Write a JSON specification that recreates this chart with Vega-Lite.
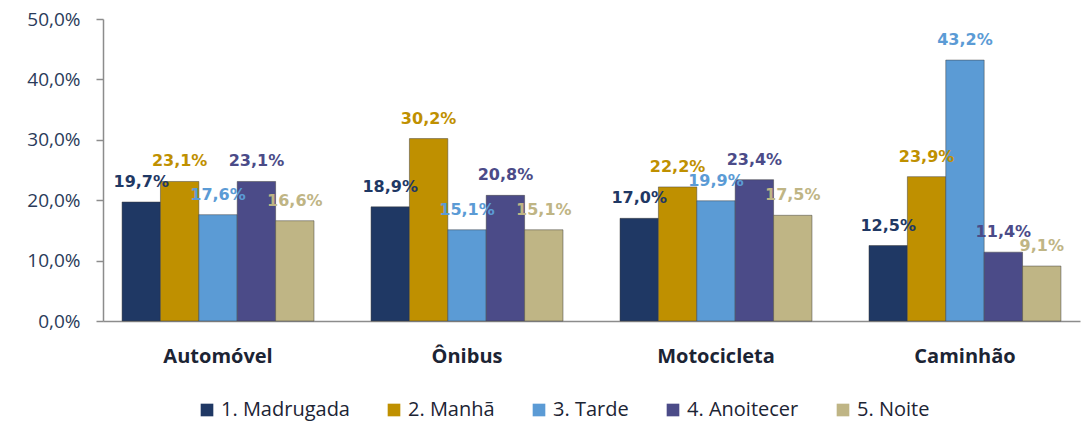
{
  "$schema": "https://vega.github.io/schema/vega-lite/v6.json",
  "autosize": {"type": "none"},
  "width": 977,
  "height": 302,
  "padding": {"left": 103, "top": 19, "right": 4, "bottom": 102},
  "background": "white",
  "config": {
    "locale": {"number": {"decimal": ",", "thousands": ".", "grouping": [3], "currency": ["R$", ""]}},
    "view": {"stroke": null}
  },
  "data": {
    "values": [
      {"veiculo": "Automóvel", "periodo": "1. Madrugada", "valor": 0.197},
      {"veiculo": "Automóvel", "periodo": "2. Manhã", "valor": 0.231},
      {"veiculo": "Automóvel", "periodo": "3. Tarde", "valor": 0.176},
      {"veiculo": "Automóvel", "periodo": "4. Anoitecer", "valor": 0.231},
      {"veiculo": "Automóvel", "periodo": "5. Noite", "valor": 0.166},
      {"veiculo": "Ônibus", "periodo": "1. Madrugada", "valor": 0.189},
      {"veiculo": "Ônibus", "periodo": "2. Manhã", "valor": 0.302},
      {"veiculo": "Ônibus", "periodo": "3. Tarde", "valor": 0.151},
      {"veiculo": "Ônibus", "periodo": "4. Anoitecer", "valor": 0.208},
      {"veiculo": "Ônibus", "periodo": "5. Noite", "valor": 0.151},
      {"veiculo": "Motocicleta", "periodo": "1. Madrugada", "valor": 0.170},
      {"veiculo": "Motocicleta", "periodo": "2. Manhã", "valor": 0.222},
      {"veiculo": "Motocicleta", "periodo": "3. Tarde", "valor": 0.199},
      {"veiculo": "Motocicleta", "periodo": "4. Anoitecer", "valor": 0.234},
      {"veiculo": "Motocicleta", "periodo": "5. Noite", "valor": 0.175},
      {"veiculo": "Caminhão", "periodo": "1. Madrugada", "valor": 0.125},
      {"veiculo": "Caminhão", "periodo": "2. Manhã", "valor": 0.239},
      {"veiculo": "Caminhão", "periodo": "3. Tarde", "valor": 0.432},
      {"veiculo": "Caminhão", "periodo": "4. Anoitecer", "valor": 0.114},
      {"veiculo": "Caminhão", "periodo": "5. Noite", "valor": 0.091}
    ]
  },
  "encoding": {
    "x": {
      "field": "veiculo", "type": "nominal", "sort": null, "title": null,
      "scale": {"paddingInner": 0.229, "paddingOuter": 0.0765},
      "axis": {
        "labelAngle": 0, "ticks": false, "domainColor": "#8c8c8c", "domainWidth": 1.5,
        "labelFont": "Open Sans", "labelFontSize": 20, "labelFontWeight": "bold",
        "labelColor": "#1c2434", "labelPadding": 25
      }
    },
    "xOffset": {"field": "periodo", "type": "nominal", "sort": null},
    "y": {
      "field": "valor", "type": "quantitative", "title": null,
      "scale": {"domain": [0, 0.5], "nice": false},
      "axis": {
        "format": ".1%", "values": [0, 0.1, 0.2, 0.3, 0.4, 0.5], "labelOverlap": false,
        "grid": false, "domainColor": "#8c8c8c", "domainWidth": 1.5,
        "tickColor": "#8c8c8c", "tickSize": 7, "tickWidth": 1.5,
        "labelFont": "Open Sans", "labelFontSize": 19, "labelColor": "#2a3b5a", "labelPadding": 16
      }
    },
    "color": {
      "field": "periodo", "type": "nominal", "sort": null,
      "scale": {
        "domain": ["1. Madrugada", "2. Manhã", "3. Tarde", "4. Anoitecer", "5. Noite"],
        "range": ["#1f3864", "#bf9000", "#5b9bd5", "#4b4b88", "#bfb585"]
      },
      "legend": {
        "title": null, "orient": "none", "direction": "horizontal",
        "legendX": 94, "legendY": 381,
        "symbolType": "square", "symbolSize": 160, "symbolStrokeWidth": 0,
        "labelFont": "Open Sans", "labelFontSize": 20, "labelColor": "#1c2434",
        "columnPadding": 34, "labelOffset": 4
      }
    }
  },
  "layer": [
    {
      "mark": {"type": "bar", "stroke": "#3a3a3a", "strokeWidth": 0.8, "strokeOpacity": 0.6}
    },
    {
      "mark": {"type": "text", "font": "DejaVu Sans", "fontSize": 16, "fontWeight": "bold", "dy": -20, "baseline": "middle"},
      "encoding": {
        "text": {"field": "valor", "type": "quantitative", "format": ".1%"}
      }
    }
  ]
}
